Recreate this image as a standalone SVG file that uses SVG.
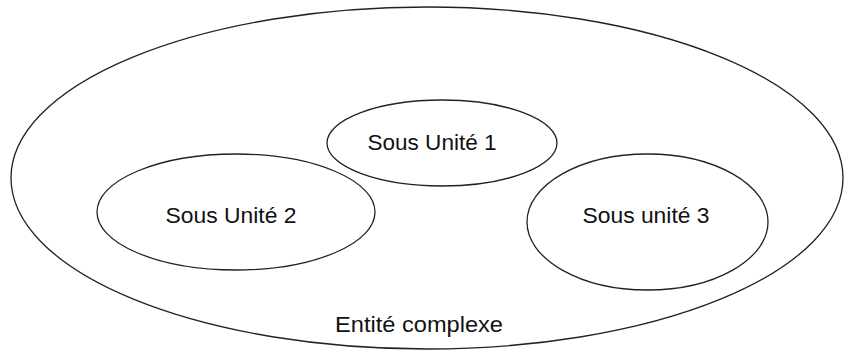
<svg xmlns="http://www.w3.org/2000/svg" width="845" height="354" viewBox="0 0 845 354">
<style>
.e{fill:none;stroke:#222;stroke-width:1.3}
.t{font-family:"Liberation Sans",Arial,sans-serif;font-size:22px;fill:#111;text-anchor:middle}
</style>
<rect width="845" height="354" fill="#fff"/>
<g id="entite-complexe">
<ellipse class="e" cx="427" cy="178" rx="416" ry="171"/>
<text class="t" x="419" y="332" textLength="168" lengthAdjust="spacingAndGlyphs">Entité complexe</text>
</g>
<g id="sous-unite-1">
<ellipse class="e" cx="442" cy="143" rx="115" ry="43"/>
<text class="t" x="432" y="150" textLength="129" lengthAdjust="spacingAndGlyphs">Sous Unité 1</text>
</g>
<g id="sous-unite-2">
<ellipse class="e" cx="236" cy="212" rx="139" ry="58"/>
<text class="t" x="231" y="223" textLength="131" lengthAdjust="spacingAndGlyphs">Sous Unité 2</text>
</g>
<g id="sous-unite-3">
<ellipse class="e" cx="647.5" cy="222" rx="120.5" ry="68"/>
<text class="t" x="646" y="223" textLength="127" lengthAdjust="spacingAndGlyphs">Sous unité 3</text>
</g>
<g id="connectors"></g>
</svg>
